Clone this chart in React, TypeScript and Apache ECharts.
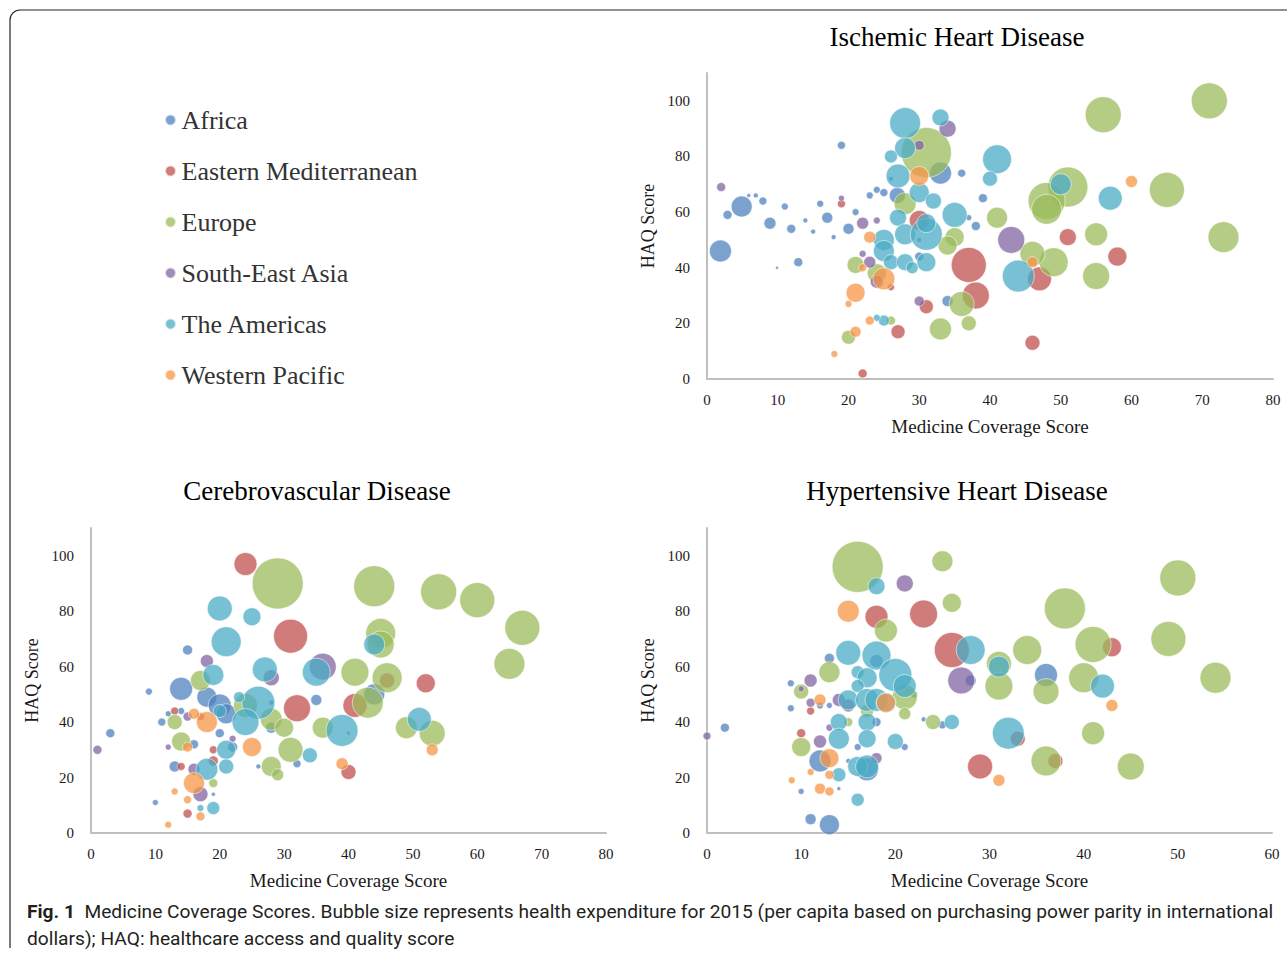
import React, { useEffect, useRef } from 'react';
import * as echarts from 'echarts';

// ---------- categories & styling keys ----------
const regions = ['Africa', 'Eastern Mediterranean', 'Europe', 'South-East Asia', 'The Americas', 'Western Pacific'];
const regionColors = ['#4F81BD', '#C0504D', '#9BBB59', '#8064A2', '#4BACC6', '#F79646'];

const panelTitles = ['Ischemic Heart Disease', 'Cerebrovascular Disease', 'Hypertensive Heart Disease'];
const xAxisName = 'Medicine Coverage Score';
const yAxisName = 'HAQ Score';
const xMaxes = [80, 80, 60];
const xStep = 10;
const yMax = 110;
const yStep = 20;
const maxExpenditure = 9500;

const captionBold = 'Fig. 1';
const captionLine1 = 'Medicine Coverage Scores. Bubble size represents health expenditure for 2015 (per capita based on purchasing power parity in international';
const captionLine2 = 'dollars); HAQ: healthcare access and quality score';

// ---------- data: [medicine coverage, HAQ, health expenditure] ----------
// Ischemic Heart Disease
const ihdAfrica = [[1.9,46,1770],[4.9,62,1610],[2.9,59,296],[5.9,66,58],[6.9,66,91],[7.9,64,234],[8.9,56,526],[11,62,179],[11.9,54,296],[9.9,40,33],[12.9,42,296],[13.9,57,91],[15,53,91],[16,63,179],[17,58,442],[17.9,51,91],[19,84,234],[20,54,442],[21,60,179],[23,66,179],[24,68,179],[25,67,234],[26.9,66,935],[33,74,1767],[36,74,234],[30,50,91],[34,28,442],[37,58,131],[38,55,296],[39,65,296],[30,44,296],[26,72,91]];
const ihdEastMed = [[19,63,234],[22,2,296],[27,17,716],[26,33,179],[31,26,716],[30,57,1461],[37,41,4471],[38,30,2661],[51,51,1055],[58,44,1318],[47,36,2103],[46,13,822]];
const ihdEurope = [[31,81.4,9130],[28,63,1767],[35,51,1318],[34,48,1318],[21,41,1055],[24,38,1318],[20,15,716],[26,21,296],[33,18,1767],[36,27,2282],[37,20,822],[41,58,1610],[56,95,4731],[71,100,4731],[51,69,5844],[48,64,4997],[48,61,3285],[65,68,4471],[73,51,3508],[55,52,1931],[55,37,2661],[49,42,3070],[46,45,2282]];
const ihdSEAsia = [[2,69,296],[34,90,1055],[30,84,365],[22,56,526],[24,57,179],[22,45,179],[23,42,526],[24,35,617],[30,28,365],[19,65,131],[43,50,2661]];
const ihdAmericas = [[28,92,3508],[33,94,1055],[28,83,1610],[26,80,617],[27,73,2103],[30,67,1461],[32,64,935],[27,58,1055],[35,59,2282],[25,50,1610],[25,46,1610],[28,52,1610],[31,52,3738],[31,56,1318],[26,42,822],[28,42,1055],[29,40,526],[31,42,1318],[25,21,442],[24,22,179],[41,79,3070],[40,72,822],[50,70,1610],[57,65,2103],[44,37,3738]];
const ihdWestPac = [[30,73,1318],[23,51,526],[22,40,234],[25,36,1767],[21,31,1318],[20,27,179],[23,21,296],[21,17,442],[18,9,179],[60,71,526],[46,42,442]];

// Cerebrovascular Disease
const cvdAfrica = [[3,36,296],[9,51,179],[15,66,365],[14,52,1931],[11,40,234],[12,43,131],[10,11,131],[13,24,442],[18,49,1461],[20,46,1931],[21,43,1461],[16,32,296],[19,14,58],[26,24,91],[35,48,442],[32,25,234],[28,38,442],[14,44,179],[22,31,365],[20,36,296],[28,47,91],[40,36,58],[44,50,1610]];
const cvdEastMed = [[24,97,1931],[31,71,4219],[32,45,2661],[13,44,234],[14,24,234],[19,30,234],[19,26,365],[15,7,296],[17,42,234],[41,46,2103],[52,54,1318],[40,22,822],[46,55,822]];
const cvdEurope = [[29,90,9500],[17,55,1461],[13,40,822],[14,33,1318],[19,18,296],[24,46,2103],[28,41,1767],[30,38,1318],[31,30,2282],[28,24,1461],[29,21,526],[36,38,1610],[44,89,6140],[54,87,4731],[60,84,4471],[67,74,4471],[65,61,3508],[45,72,3285],[45,68,2661],[41,58,2862],[46,56,3285],[43,47,3508],[49,38,1767],[53,36,2468]];
const cvdSEAsia = [[1,30,296],[18,62,617],[28,56,935],[36,60,2661],[12,31,131],[15,42,296],[17,14,822],[16,23,526],[22,34,179]];
const cvdAmericas = [[20,81,2282],[25,78,1183],[21,69,3285],[27,59,2282],[35,58,2862],[19,57,1610],[26,47,3975],[24,40,2661],[23,49,442],[20,44,617],[21,30,1318],[21,24,822],[18,23,1767],[34,28,822],[39,37,3738],[19,9,617],[17,9,179],[44,68,1610],[51,41,2103]];
const cvdWestPac = [[18,40,1610],[16,43,442],[15,31,365],[25,31,1318],[16,18,1610],[13,15,179],[15,12,234],[17,6,296],[12,3,179],[39,25,526],[53,30,526]];

// Hypertensive Heart Disease
const hhdAfrica = [[1.9,38,296],[11,5,442],[13,3,1461],[8.9,54,179],[8.9,45,179],[10,15,131],[13,63,365],[12,26,1767],[16,31,179],[17,23,1931],[14,16,58],[21,31,179],[23,41,91],[25,39,234],[28,55,442],[22,50,179],[13,46,131],[12,46,179],[15,26,91],[18,40,296],[36,57,1931],[18,62,617]];
const hhdEastMed = [[18,78,1931],[23,79,2862],[26,66,4471],[29,24,2282],[10,36,296],[11,44,234],[43,67,1318],[33,34,822],[37,26,822]];
const hhdEurope = [[16,96,9500],[25,98,1610],[26,83,1318],[19,73,1931],[13,58,1610],[10,51,822],[10,31,1318],[21,49,2282],[21,43,526],[24,40,822],[17,44,617],[15,40,296],[50,92,4731],[38,81,6140],[41,68,4731],[49,70,4471],[54,56,3508],[34,66,3070],[31,61,2282],[31,53,2862],[36,51,2468],[40,56,3285],[41,36,1931],[36,26,3285],[45,24,2661]];
const hhdSEAsia = [[21,90,1055],[27,55,2661],[0,35,234],[11,55,617],[10,52,131],[11,47,296],[14,48,617],[12,33,617],[13,38,179],[18,27,442],[15,46,617]];
const hhdAmericas = [[18,89,1055],[15,65,2282],[18,64,3070],[20,57,3975],[21,53,1931],[16,58,617],[17,56,1461],[16,53,617],[15,48,1461],[17,48,1931],[18,48,1931],[19,47,1461],[14,40,1055],[14,34,1610],[17,40,1183],[17,34,1183],[20,33,935],[16,24,1461],[17,24,1931],[14,21,716],[16,12,617],[26,40,822],[28,66,3070],[31,60,1610],[42,53,2103],[32,36,3738]];
const hhdWestPac = [[15,80,1767],[19,47,1318],[12,48,526],[13,27,1318],[13,21,296],[12,16,442],[13,15,296],[9,19,179],[11,22,179],[43,46,526],[31,19,526]];

const panelData = [
  [ihdAfrica, ihdEastMed, ihdEurope, ihdSEAsia, ihdAmericas, ihdWestPac],
  [cvdAfrica, cvdEastMed, cvdEurope, cvdSEAsia, cvdAmericas, cvdWestPac],
  [hhdAfrica, hhdEastMed, hhdEurope, hhdSEAsia, hhdAmericas, hhdWestPac],
];

export default function App() {
  const ref = useRef<HTMLDivElement>(null);

  useEffect(() => {
    if (!ref.current) return;
    const chart = echarts.init(ref.current, null, { renderer: 'svg' });
    const serif = '"Liberation Serif", "Times New Roman", serif';
    const sans = 'Roboto, "Open Sans", sans-serif';
    const axisColor = '#BFBFBF';
    const textColor = '#1a1a1a';

    const grids = [
      { left: 707, top: 73, width: 566, height: 306 },
      { left: 91, top: 528, width: 515, height: 305 },
      { left: 707, top: 528, width: 565, height: 305 },
    ];
    const titlePos = [
      [957, 37],
      [317, 491],
      [957, 491],
    ];

    const xAxes = grids.map((_, i) => ({
      type: 'value',
      gridIndex: i,
      min: 0,
      max: xMaxes[i],
      interval: xStep,
      name: xAxisName,
      nameLocation: 'middle',
      nameGap: 38,
      nameTextStyle: { fontFamily: serif, fontSize: 19, color: textColor },
      axisLine: { show: true, onZero: false, lineStyle: { color: axisColor, width: 2 } },
      axisTick: { show: false },
      splitLine: { show: false },
      axisLabel: { fontFamily: serif, fontSize: 15, color: textColor, margin: 13 },
    }));

    const yAxes = grids.map((_, i) => ({
      type: 'value',
      gridIndex: i,
      min: 0,
      max: yMax,
      interval: yStep,
      name: yAxisName,
      nameLocation: 'middle',
      nameGap: 50,
      nameRotate: 90,
      nameTextStyle: { fontFamily: serif, fontSize: 18, color: textColor },
      axisLine: { show: true, onZero: false, lineStyle: { color: axisColor, width: 2 } },
      axisTick: { show: false },
      splitLine: { show: false },
      axisLabel: { fontFamily: serif, fontSize: 15, color: textColor, margin: 17, showMaxLabel: false },
    }));

    const series: any[] = [];
    panelData.forEach((sets, p) => {
      sets.forEach((data, r) => {
        series.push({
          type: 'scatter',
          name: regions[r],
          xAxisIndex: p,
          yAxisIndex: p,
          data,
          symbol: 'circle',
          symbolSize: (v: number[]) => 51 * Math.sqrt(v[2] / maxExpenditure),
          itemStyle: {
            color: regionColors[r],
            opacity: 0.75,
            borderColor: 'rgba(255,255,255,0.9)',
            borderWidth: 0.8,
          },
          emphasis: { disabled: true },
        });
      });
    });

    const graphic: any[] = [
      // figure frame (top + left border with rounded corner)
      { type: 'line', shape: { x1: 20, y1: 10, x2: 1287, y2: 10 }, style: { stroke: '#222', lineWidth: 1.2 } },
      { type: 'line', shape: { x1: 10, y1: 20, x2: 10, y2: 948 }, style: { stroke: '#222', lineWidth: 1.2 } },
      { type: 'arc', shape: { cx: 20, cy: 20, r: 10, startAngle: Math.PI, endAngle: Math.PI * 1.5 }, style: { stroke: '#222', lineWidth: 1.2, fill: 'none' } },
    ];
    panelTitles.forEach((t, i) => {
      graphic.push({
        type: 'text',
        x: titlePos[i][0],
        y: titlePos[i][1],
        style: { text: t, fill: '#000', fontFamily: serif, fontSize: 27, align: 'center', verticalAlign: 'middle' },
      });
    });
    graphic.push({
      type: 'text',
      x: 27,
      y: 911,
      style: {
        text: '{b|' + captionBold + '}  ' + captionLine1,
        fill: '#231F20',
        fontFamily: sans,
        fontSize: 19.2,
        align: 'left',
        verticalAlign: 'middle',
        rich: { b: { fontFamily: sans, fontSize: 19.2, fontWeight: 'bold', fill: '#231F20' } },
      },
    });
    graphic.push({
      type: 'text',
      x: 27,
      y: 938,
      style: { text: captionLine2, fill: '#231F20', fontFamily: sans, fontSize: 19.2, align: 'left', verticalAlign: 'middle' },
    });

    chart.setOption({
      animation: false,
      backgroundColor: '#fff',
      legend: {
        data: regions,
        orient: 'vertical',
        left: 159,
        top: 102,
        icon: 'circle',
        itemWidth: 12,
        itemHeight: 11,
        itemGap: 25,
        selectedMode: false,
        textStyle: { fontFamily: serif, fontSize: 26, lineHeight: 26, color: '#333' },
      },
      grid: grids,
      xAxis: xAxes,
      yAxis: yAxes,
      series,
      graphic,
    });

    return () => chart.dispose();
  }, []);

  return (
    <div
      ref={ref}
      style={{ position: 'absolute', left: 0, top: 0, width: 1287, height: 954, background: '#fff' }}
    />
  );
}
